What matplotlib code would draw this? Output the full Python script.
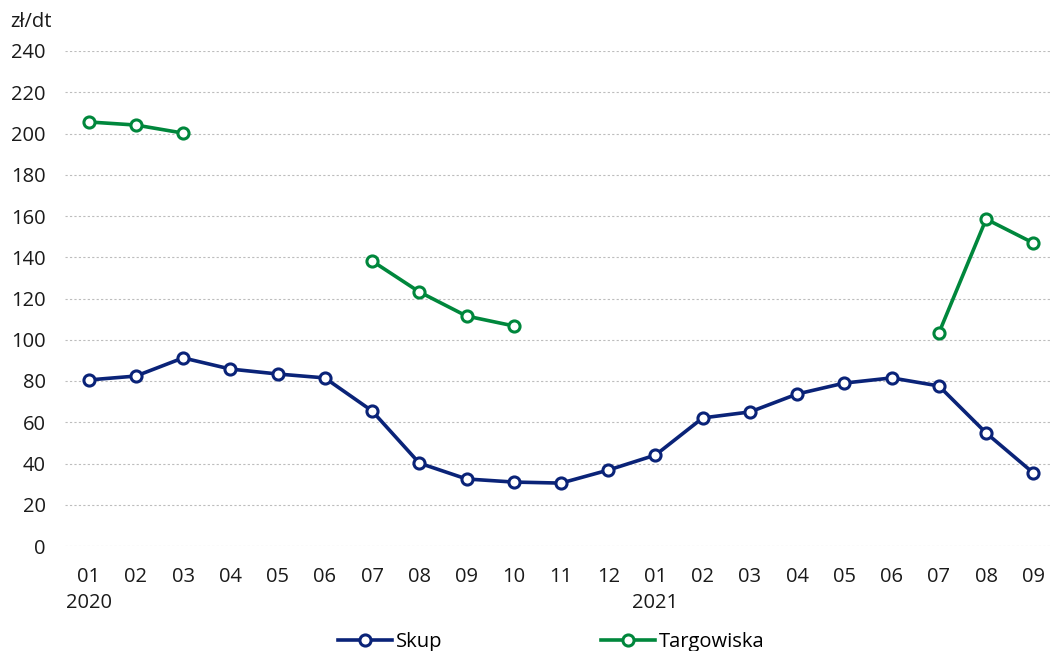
import numpy as np
import matplotlib.pyplot as plt

months = ["01", "02", "03", "04", "05", "06", "07", "08", "09", "10", "11", "12",
          "01", "02", "03", "04", "05", "06", "07", "08", "09"]
years = {0: "2020", 12: "2021"}

skup = [80.5, 82.4, 91.2, 85.8, 83.4, 81.5, 65.5, 40.2, 32.5, 31.0, 30.5, 36.8,
        44.1, 62.1, 65.0, 73.7, 79.0, 81.5, 77.6, 54.8, 35.4]
targowiska = [205.6, 204.1, 200.2, np.nan, np.nan, np.nan, 138.2, 123.2, 111.5, 106.7,
              np.nan, np.nan, np.nan, np.nan, np.nan, np.nan, np.nan, np.nan,
              103.3, 158.5, 146.9]

plt.rcParams['font.family'] = ['Open Sans', 'DejaVu Sans']
FS = 14.5
TXT = "#1a1a1a"

fig = plt.figure(figsize=(10.5, 6.51), dpi=100)
ax = fig.add_axes([65 / 1050, 1 - 546 / 651, 992 / 1050, 495 / 651])

x = np.arange(len(months))
style = dict(lw=2.6, marker="o", ms=8, mfc="white", mew=2.2)
ax.plot(x, skup, color="#0a2378", label="Skup", **style)
ax.plot(x, targowiska, color="#00873c", label="Targowiska", **style)

ax.set_xlim(-0.5, len(months) - 0.5)
ax.set_ylim(0, 240)
ax.set_yticks(range(0, 241, 20))
ax.grid(axis="y", color="#bdbdbd", ls=(0, (2, 2)), lw=0.8)
ax.set_axisbelow(True)
for s in ax.spines.values():
    s.set_visible(False)
ax.tick_params(length=0, labelsize=FS, colors=TXT)
ax.tick_params(axis="y", pad=14)
ax.tick_params(axis="x", pad=15)

ax.set_xticks(x)
ax.set_xticklabels(months)
for i, y in years.items():
    ax.text(i, -0.095, y, transform=ax.get_xaxis_transform(), ha="center",
            va="top", fontsize=FS, color=TXT)

fig.text(10 / 1050, 1 - 22 / 651, "zł/dt", fontsize=FS, va="center", color=TXT)

ax.legend(loc="upper center", bbox_to_anchor=(0.49, -0.137), ncol=2, frameon=False,
          fontsize=FS, columnspacing=7.9, handlelength=2.7, handletextpad=0.15)

fig.savefig("out.png", dpi=100)
